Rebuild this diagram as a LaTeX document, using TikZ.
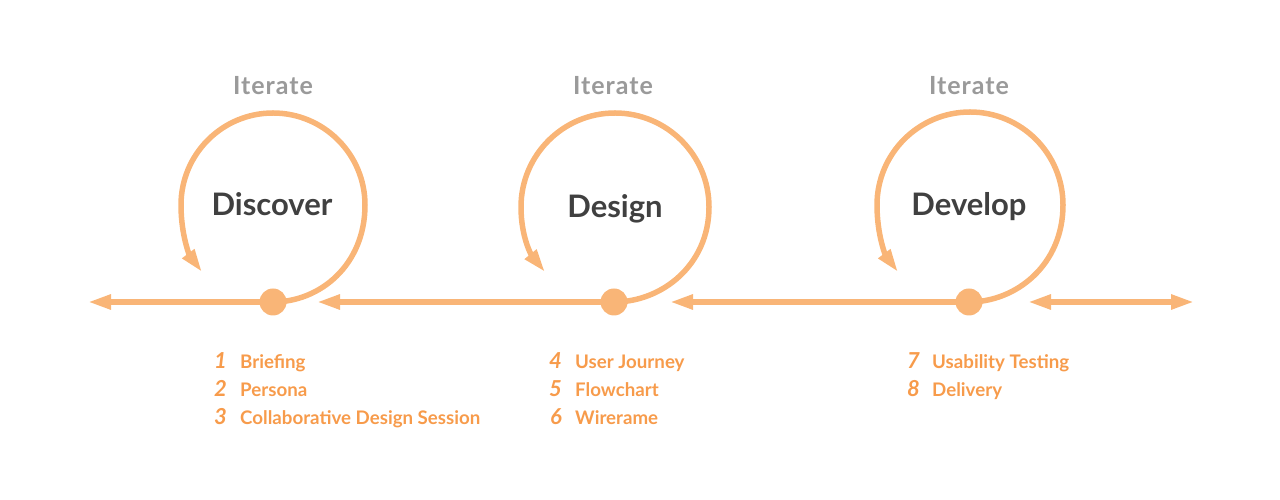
\documentclass[tikz,border=0pt]{standalone}
\usepackage{fontspec}
\setmainfont{Lato}
\usetikzlibrary{arrows.meta}
\definecolor{lineor}{HTML}{F9B577}
\definecolor{textor}{HTML}{F79B4B}
\definecolor{itgray}{HTML}{9A9A9A}
\definecolor{titledark}{HTML}{404040}
\tikzset{
  flow/.style={draw=lineor, line width=5.5pt},
  tip/.style={-{Triangle[length=23pt,width=14pt]}},
  dtip/.style={{Triangle[length=23pt,width=14pt]}-{Triangle[length=23pt,width=14pt]}},
  dot/.style={circle, fill=lineor, minimum size=27pt, inner sep=0pt},
  iter/.style={font=\fontsize{25}{28}\selectfont\bfseries\addfontfeature{LetterSpace=4}, text=itgray, anchor=base, inner sep=0pt},
  phase/.style={font=\fontsize{31}{34}\selectfont\bfseries, text=titledark, anchor=base, inner sep=0pt},
  num/.style={font=\fontsize{22}{24}\selectfont\bfseries\itshape, text=textor, anchor=base east, inner sep=0pt},
  item/.style={font=\fontsize{18.7}{22}\selectfont\bfseries, text=textor, anchor=base west, inner sep=0pt},
}
\begin{document}
\begin{tikzpicture}[x=1pt,y=1pt]
\useasboundingbox (0,0) rectangle (1280,500);
% positions
\coordinate (p1) at (273,198);
\coordinate (p2) at (614,198);
\coordinate (p3) at (969,198);
\coordinate (e1) at (88,198);
\coordinate (e2) at (317,198);
\coordinate (e3) at (670,198);
\coordinate (e4a) at (1028,198);
\coordinate (e4b) at (1194,198);
\coordinate (t1) at (202,228);
\coordinate (t2) at (545,228);
\coordinate (t3) at (898,228);
% horizontal lines
\draw[flow,tip] (p1) -- (e1);
\draw[flow,tip] (p2) -- (e2);
\draw[flow,tip] (p3) -- (e3);
\draw[flow,dtip] (e4a) -- (e4b);
% loops
\draw[flow,tip] (p1) .. controls (320,198) and (365,235) .. (365,295)
  arc[start angle=0, end angle=180, radius=92]
  .. controls (181,264) and (190,244) .. (t1);
\draw[flow,tip] (p2) .. controls (662,198) and (709,235) .. (709,293)
  arc[start angle=0, end angle=180, radius=94]
  .. controls (521,262) and (532,244) .. (t2);
\draw[flow,tip] (p3) .. controls (1016,198) and (1063,235) .. (1063,295)
  arc[start angle=0, end angle=180, radius=93]
  .. controls (877,264) and (886,244) .. (t3);
% dots
\node[dot] (d1) at (p1) {};
\node[dot] (d2) at (p2) {};
\node[dot] (d3) at (p3) {};
% labels
\node[iter] (i1) at (273,405) {Iterate};
\node[iter] (i2) at (613,405) {Iterate};
\node[iter] (i3) at (969,405) {Iterate};
\node[phase] (h1) at (272,284) {Discover};
\node[phase] (h2) at (615,282) {Design};
\node[phase] (h3) at (969,284) {Develop};
% lists
\node[num] (n1) at (227,131) {1};
\node[item] (a1) at (240,131) {Briefing};
\node[num] (n2) at (227,103) {2};
\node[item] (a2) at (240,103) {Persona};
\node[num] (n3) at (227,75) {3};
\node[item] (a3) at (240,75) {Collaborative Design Session};
\node[num] (n4) at (562,131) {4};
\node[item] (a4) at (575,131) {User Journey};
\node[num] (n5) at (562,103) {5};
\node[item] (a5) at (575,103) {Flowchart};
\node[num] (n6) at (562,75) {6};
\node[item] (a6) at (575,75) {Wirerame};
\node[num] (n7) at (920,131) {7};
\node[item] (a7) at (932,131) {Usability Testing};
\node[num] (n8) at (920,103) {8};
\node[item] (a8) at (932,103) {Delivery};
\end{tikzpicture}
\end{document}
